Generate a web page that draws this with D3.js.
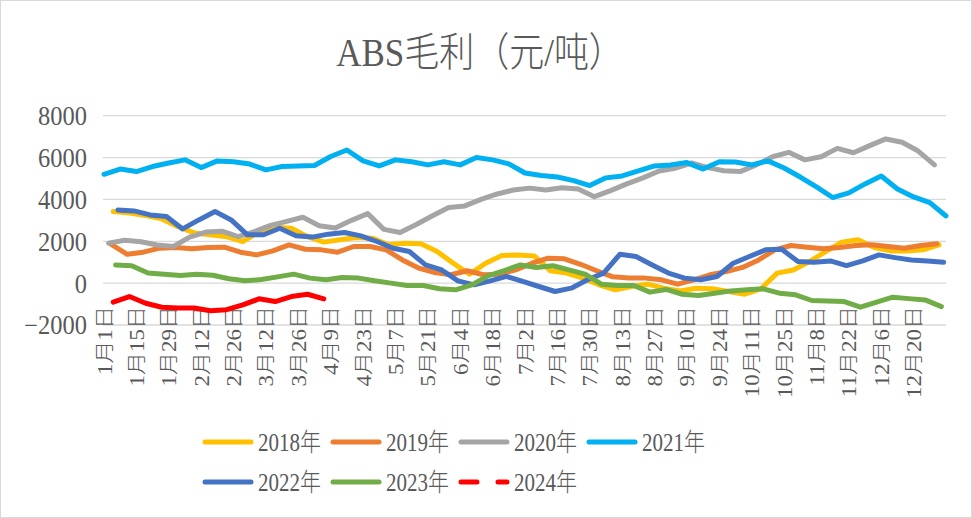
<!DOCTYPE html>
<html>
<head>
<meta charset="utf-8">
<script src="https://cdn.jsdelivr.net/npm/d3@7"></script>
<style>
  body { margin: 0; background: #fff; }
  text { font-family: "Liberation Serif", "Noto Sans CJK SC", serif; font-weight: 300; fill: #595959; }
</style>
</head>
<body>
<svg id="chart" width="972" height="518"></svg>
<script>
// week labels (every other week shown on the axis)
const tickLabels = ["1月1日", "1月15日", "1月29日", "2月12日", "2月26日", "3月12日", "3月26日", "4月9日",
  "4月23日", "5月7日", "5月21日", "6月4日", "6月18日", "7月2日", "7月16日", "7月30日", "8月13日",
  "8月27日", "9月10日", "9月24日", "10月11日", "10月25日", "11月8日", "11月22日", "12月6日", "12月20日"];

const years = ["2018年", "2019年", "2020年", "2021年", "2022年", "2023年", "2024年"];
// day of January of each year's first weekly quote
const firstDay = [4, 3, 2, 0, 6, 5, 4];

const v2018 = [3420, 3350, 3230, 3070, 2700, 2400, 2310, 2220, 1990, 2460, 2670, 2620, 2220, 1960, 2070, 2180,
  2150, 1830, 1910, 1880, 1510, 950, 430, 950, 1320, 1350, 1300, 590, 480, 240, -80, -320, -160, -50, -240,
  -370, -240, -270, -400, -530, -270, 480, 630, 1030, 1510, 1960, 2070, 1700, 1540, 1540, 1590, 1830];
const v2019 = [1860, 1380, 1480, 1670, 1700, 1640, 1700, 1720, 1480, 1350, 1540, 1830, 1620, 1590, 1480, 1750,
  1750, 1590, 1110, 720, 510, 400, 590, 400, 430, 630, 950, 1190, 1160, 900, 590, 300, 240, 240, 160,
  -50, 160, 400, 550, 750, 1110, 1590, 1800, 1720, 1640, 1700, 1800, 1830, 1750, 1670, 1800, 1880];
const v2020 = [1910, 2050, 1980, 1820, 1750, 2200, 2440, 2480, 2220, 2460, 2760, 2950, 3150, 2740, 2630, 3000,
  3320, 2570, 2420, 2800, 3220, 3610, 3690, 4000, 4260, 4450, 4540, 4450, 4560, 4500, 4130, 4420, 4740,
  5030, 5360, 5490, 5740, 5520, 5370, 5330, 5650, 6040, 6250, 5890, 6040, 6440, 6230, 6570, 6890, 6730,
  6310, 5650];
const v2021 = [5200, 5450, 5330, 5570, 5740, 5890, 5520, 5840, 5800, 5690, 5410, 5570, 5600, 5620, 6050, 6360,
  5840, 5600, 5890, 5800, 5650, 5800, 5650, 6000, 5890, 5700, 5260, 5140, 5070, 4900, 4660, 5030, 5120,
  5360, 5600, 5650, 5760, 5450, 5800, 5790, 5650, 5840, 5500, 5070, 4600, 4090, 4310, 4740, 5120, 4500,
  4120, 3850, 3210];
const v2022 = [3500, 3450, 3260, 3180, 2590, 3020, 3420, 3020, 2310, 2310, 2620, 2260, 2200, 2340, 2420, 2260,
  1990, 1670, 1510, 870, 630, 110, -80, 110, 320, 80, -160, -400, -240, 160, 480, 1380, 1270, 870, 480,
  240, 160, 320, 950, 1270, 1590, 1620, 1030, 1000, 1060, 840, 1060, 1350, 1220, 1110, 1060, 1000];
const v2023 = [870, 830, 480, 430, 360, 430, 380, 210, 110, 170, 300, 430, 240, 160, 270, 240, 110, 0, -110,
  -110, -270, -320, -80, 350, 600, 870, 750, 830, 630, 430, -50, -110, -110, -430, -300, -530, -590, -480,
  -370, -320, -270, -480, -560, -830, -850, -880, -1150, -910, -670, -740, -800, -1120];
const v2024 = [-910, -640, -960, -1150, -1190, -1190, -1320, -1270, -1040, -750, -880, -640, -530, -750];

const yTicks = [-2000, 0, 2000, 4000, 6000, 8000];
const colors = ["#FFC000", "#ED7D31", "#A5A5A5", "#00B0F0", "#4472C4", "#70AD47", "#FF0000"];
const seriesValues = [v2018, v2019, v2020, v2021, v2022, v2023, v2024];

const series = years.map((name, k) => ({
  name: name,
  color: colors[k],
  points: seriesValues[k].map((v, i) => ({ week: firstDay[k] / 7 + i, value: v }))
}));

const svg = d3.select("#chart");

const x = d3.scaleLinear().domain([0, 52]).range([104, 946]);
const y = d3.scaleLinear().domain([-2000, 8000]).range([325, 115.7]);

svg.append("rect")
  .attr("x", 0.5).attr("y", 0.5)
  .attr("width", 971).attr("height", 517)
  .attr("fill", "#fff").attr("stroke", "#D9D9D9");

// the source picture is a little taller than wide, so text is stretched a bit
svg.append("text")
  .attr("transform", "translate(480,66) scale(1,1.15)")
  .attr("text-anchor", "middle")
  .style("font-size", "35px")
  .text("ABS毛利（元/吨）");

// gridlines
svg.append("g")
  .selectAll("line")
  .data(yTicks)
  .enter().append("line")
  .attr("x1", x(0) - 1).attr("x2", x(52))
  .attr("y1", d => y(d)).attr("y2", d => y(d))
  .attr("stroke", "#D9D9D9")
  .attr("stroke-width", 1.3);

const yAxis = svg.append("g")
  .attr("transform", "translate(" + x(0) + ",0)")
  .call(d3.axisLeft(y).tickValues(yTicks).tickSize(0).tickPadding(17).tickFormat(d3.format("d")));
yAxis.select(".domain").remove();
yAxis.selectAll("text")
  .attr("dy", "0.34em")
  .attr("transform", "scale(1,1.08)")
  .style("font-size", "24.5px")
  .style("font-family", null)
  .attr("fill", null);

const xAxis = svg.append("g")
  .attr("transform", "translate(0,306)")
  .call(d3.axisBottom(x).tickValues(d3.range(0, 52, 2)).tickSize(0)
    .tickFormat(d => tickLabels[d / 2]));
xAxis.select(".domain").remove();
xAxis.selectAll("text")
  .attr("x", 0).attr("y", 0).attr("dy", "0.35em")
  .attr("transform", "scale(1,1.15) rotate(-90)")
  .style("text-anchor", "end")
  .style("font-size", "20px")
  .style("font-family", null)
  .attr("fill", null);

const line = d3.line()
  .x(d => x(d.week))
  .y(d => y(d.value));

svg.append("g")
  .selectAll("path")
  .data(series)
  .enter().append("path")
  .attr("d", d => line(d.points))
  .attr("fill", "none")
  .attr("stroke", d => d.color)
  .attr("stroke-width", 5)
  .attr("stroke-linecap", "round")
  .attr("stroke-linejoin", "round");

// legend
const legend = svg.append("g")
  .selectAll("g")
  .data(series)
  .enter().append("g")
  .attr("transform", (d, i) => "translate(" + (203 + (i % 4) * 128) + "," + (442 + Math.floor(i / 4) * 40) + ")");

legend.append("line")
  .attr("x1", 2).attr("x2", 48)
  .attr("stroke", d => d.color)
  .attr("stroke-width", 5)
  .attr("stroke-linecap", "round")
  .attr("stroke-dasharray", d => d.name === "2024年" ? "16 21" : null);

legend.append("text")
  .attr("x", 55)
  .attr("dy", "0.35em")
  .attr("transform", "scale(1,1.2)")
  .style("font-size", "21px")
  .text(d => d.name);
</script>
</body>
</html>
